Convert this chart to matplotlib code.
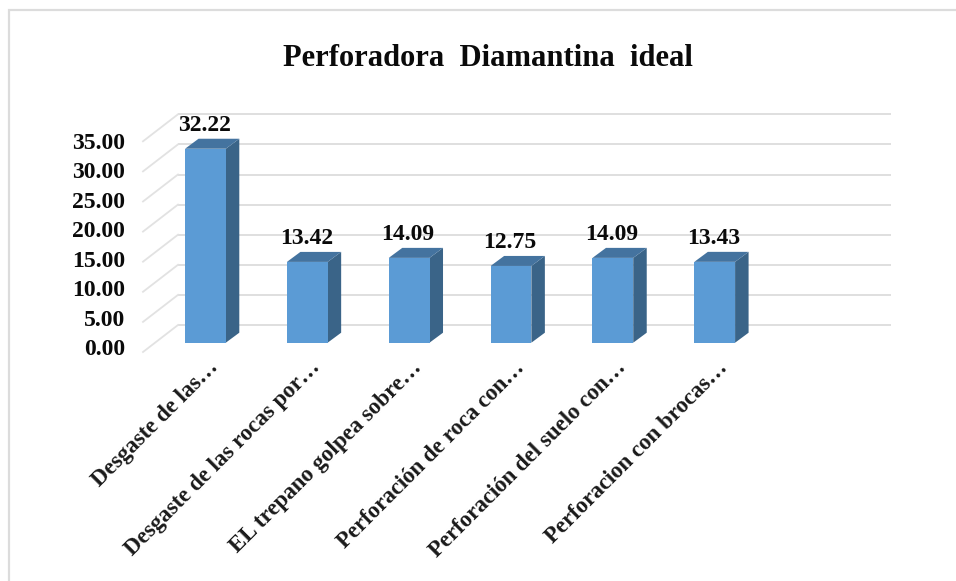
import matplotlib
matplotlib.use("Agg")
import matplotlib.pyplot as plt
from matplotlib.patches import Polygon, Rectangle
from matplotlib.transforms import Affine2D

categories = ["Desgaste de las…", "Desgaste de las rocas por…", "EL trepano golpea sobre…",
              "Perforación de roca con…", "Perforación del suelo con…", "Perforacion con brocas…", ""]
values = [32.22, 13.42, 14.09, 12.75, 14.09, 13.43]
yticks = [0, 5, 10, 15, 20, 25, 30, 35]
title = "Perforadora  Diamantina  ideal"

W, H = 956, 581
plt.rcParams['font.family'] = ['Liberation Serif', 'DejaVu Serif']
fig = plt.figure(figsize=(W / 100, H / 100), dpi=100, facecolor="white")
ax = fig.add_axes([143 / W, (H - 352) / H, 713 / W, 210.7 / H])
ax.set_xlim(-0.5, 6.5)
ax.set_ylim(0, 35)
ax.patch.set_visible(False)
for s in ax.spines.values():
    s.set_visible(False)

GRID = "#dcdcdc"
FACE, SIDE, TOP = "#5b9bd5", "#3a6488", "#44739f"
BACK = Affine2D().translate(35, 27)     # floor depth in pixels
BAR = Affine2D().translate(11.5, 9.3)   # front of bars inside the floor
bw = 0.4
xmin, xmax = ax.get_xlim()

for v in yticks:
    ax.plot([xmin, xmax], [v, v], color=GRID, lw=1.3, transform=ax.transData + BACK,
            clip_on=False, zorder=1, solid_capstyle="butt")
    p0 = ax.transData.transform((xmin, v))
    ax.plot([p0[0], p0[0] + 35], [p0[1], p0[1] + 27], color="#e2e2e2", lw=1.3,
            transform=None, clip_on=False, zorder=1)

bar_t = ax.transData + BAR
for i, v in enumerate(values):
    l, r = i - bw / 2, i + bw / 2
    f = [bar_t.transform(c) for c in [(l, 0), (r, 0), (r, v), (l, v)]]
    d = (13.5, 10)
    shift = lambda q: (q[0] + d[0], q[1] + d[1])
    ax.add_patch(Polygon([f[1], shift(f[1]), shift(f[2]), f[2]], closed=True, fc=SIDE, ec="none",
                         transform=None, clip_on=False, zorder=2))
    ax.add_patch(Polygon([f[3], f[2], shift(f[2]), shift(f[3])], closed=True, fc=TOP, ec="none",
                         transform=None, clip_on=False, zorder=2))
    ax.add_patch(Rectangle((l, 0), bw, v, fc=FACE, ec="none", transform=bar_t,
                           clip_on=False, zorder=3))
    ax.annotate(f"{v:.2f}", (i, v), xycoords=bar_t, xytext=(-1, 13), textcoords="offset pixels",
                ha="center", va="bottom", fontsize=17, fontweight="bold", color="#0a0a0a", zorder=4)

ax.set_yticks([])
ax.set_xticks([])

# tick labels sit on their own slightly tighter scale, as in the source image
lab = fig.add_axes([143 / W, (H - 347) / H, 713 / W, 206 / H])
lab.set_ylim(0, 35)
lab.patch.set_visible(False)
for s in lab.spines.values():
    s.set_visible(False)
lab.set_xticks([])
lab.set_yticks(yticks)
lab.set_yticklabels([f"{v:.2f}" for v in yticks], fontsize=17, fontweight="bold", color="#0a0a0a")
lab.tick_params(axis="y", length=0, pad=13)

# category labels: end just under each bar
for i, c in enumerate(categories):
    if c:
        ax.annotate(c, (i, 0), xycoords=ax.transData, xytext=(14, -5), textcoords="offset pixels",
                    rotation=45, rotation_mode="anchor", ha="right", va="top",
                    fontsize=16.5, fontweight="bold", color="#1a1a1a")

fig.text(487.5 / W, 1 - 58 / H, title, ha="center", va="center", fontsize=22, fontweight="bold", color="#0a0a0a")

# chart frame
fig.add_artist(Rectangle((9 / W, -0.01), (W + 10) / W, 1 - 10 / H + 0.01, transform=fig.transFigure,
                         fc="none", ec="#dcdcdc", lw=1.6))
fig.savefig("out.png", dpi=100, facecolor="white")
